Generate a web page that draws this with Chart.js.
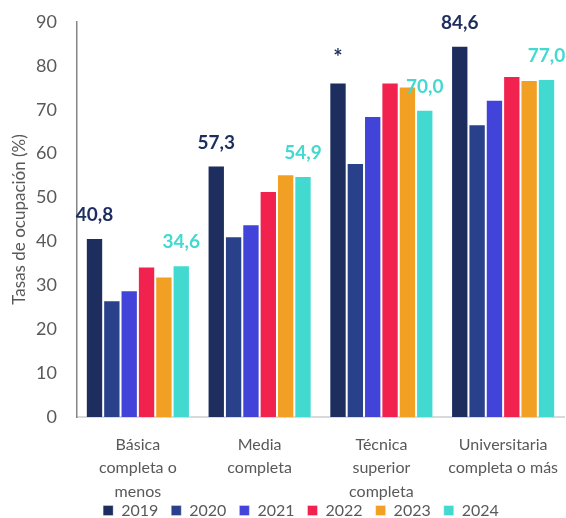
<!DOCTYPE html>
<html>
<head>
<meta charset="utf-8">
<script src="https://cdn.jsdelivr.net/npm/chart.js@4"></script>
<style>
  html, body { margin: 0; padding: 0; background: #ffffff; }
  #wrap { width: 566px; height: 518px; position: relative; }
</style>
</head>
<body>
<div id="wrap"><canvas id="chart"></canvas></div>
<script>
// categorías (eje x, varias líneas)
const categories = [
    ["Básica", "completa o", "menos"],
    ["Media", "completa"],
    ["Técnica", "superior", "completa"],
    ["Universitaria", "completa o más"]
];

const years = ["2019", "2020", "2021", "2022", "2023", "2024"];

// tasas de ocupación (%) por año
const v2019 = [40.8, 57.3, 76.2, 84.6];
const v2020 = [26.6, 41.2, 57.9, 66.7];
const v2021 = [28.9, 43.9, 68.6, 72.3];
const v2022 = [34.3, 51.5, 76.2, 77.7];
const v2023 = [32.0, 55.3, 75.3, 76.8];
const v2024 = [34.6, 54.9, 70.0, 77.0];

// etiquetas visibles sobre barras 2019 y 2024
const labels2019 = ["40,8", "57,3", "*", "84,6"];
const labels2024 = ["34,6", "54,9", "70,0", "77,0"];

const yTicks = [0, 10, 20, 30, 40, 50, 60, 70, 80, 90];

const colors = ["#1c2d5e", "#28418a", "#4244d9", "#f2224f", "#f2a024", "#42dad0"];
const series = [v2019, v2020, v2021, v2022, v2023, v2024];

// etiquetas de valor encima de las barras
const valueLabels = {
    id: "valueLabels",
    afterDatasetsDraw(chart) {
        const ctx = chart.ctx;
        const marks = [[0, labels2019], [5, labels2024]];
        ctx.save();
        ctx.textAlign = "center";
        ctx.textBaseline = "middle";
        for (const [di, txt] of marks) {
            const meta = chart.getDatasetMeta(di);
            ctx.fillStyle = colors[di];
            meta.data.forEach((bar, i) => {
                const t = txt[i];
                if (t === "*") {
                    ctx.font = "bold 22px Lato";
                    ctx.fillText(t, bar.x, bar.y - 25);
                } else {
                    ctx.font = "bold 19px Lato";
                    ctx.fillText(t, bar.x, bar.y - 23);
                }
            });
        }
        ctx.restore();
    }
};

// leyenda: colocarla como en el original (abajo, algo a la derecha)
const legendNudge = {
    id: "legendNudge",
    afterLayout(chart) {
        const lg = chart.legend;
        if (!lg) return;
        lg.left += 19; lg.right += 19;
        lg.top = 489.5;
        lg.bottom = chart.height;
        lg.height = lg.bottom - lg.top;
    }
};

new Chart(document.getElementById("chart"), {
    type: "bar",
    data: {
        labels: categories,
        datasets: series.map((d, i) => ({
            label: years[i],
            data: d,
            backgroundColor: colors[i],
            borderColor: "rgba(255,255,255,0.35)",
            borderWidth: 1,
            categoryPercentage: 0.855,
            barPercentage: 1
        }))
    },
    options: {
        responsive: true,
        maintainAspectRatio: false,
        animation: false,
        layout: { padding: { top: 22, right: 2, left: 0, bottom: 0 } },
        plugins: {
            tooltip: { enabled: false },
            legend: {
                position: "bottom",
                maxHeight: 17,
                labels: {
                    boxWidth: 10,
                    boxHeight: 10,
                    padding: 13,
                    color: "#595959",
                    font: { family: "Lato", size: 16 }
                }
            }
        },
        scales: {
            x: {
                grid: { display: false, drawTicks: true, tickLength: 16 },
                border: { display: true, color: "#d9d9d9", width: 2 },
                ticks: {
                    color: "#595959",
                    padding: 0,
                    maxRotation: 0,
                    autoSkip: false,
                    font: { family: "Lato", size: 16, lineHeight: 1.46 }
                },
                afterFit(scale) { scale.height = 84; }
            },
            y: {
                min: 0,
                max: 90,
                afterBuildTicks(scale) { scale.ticks = yTicks.map(v => ({ value: v })); },
                grid: { display: false, drawTicks: true, tickLength: 20 },
                border: { display: true, color: "#868686", width: 1.5 },
                ticks: {
                    color: "#595959",
                    padding: 0,
                    font: { family: "Lato", size: 18 }
                },
                title: {
                    display: true,
                    text: "Tasas de ocupación (%)",
                    color: "#595959",
                    padding: { top: 9, bottom: 0 },
                    font: { family: "Lato", size: 17 }
                },
                afterFit(scale) { scale.width = 77; }
            }
        }
    },
    plugins: [valueLabels, legendNudge]
});
</script>
</body>
</html>
